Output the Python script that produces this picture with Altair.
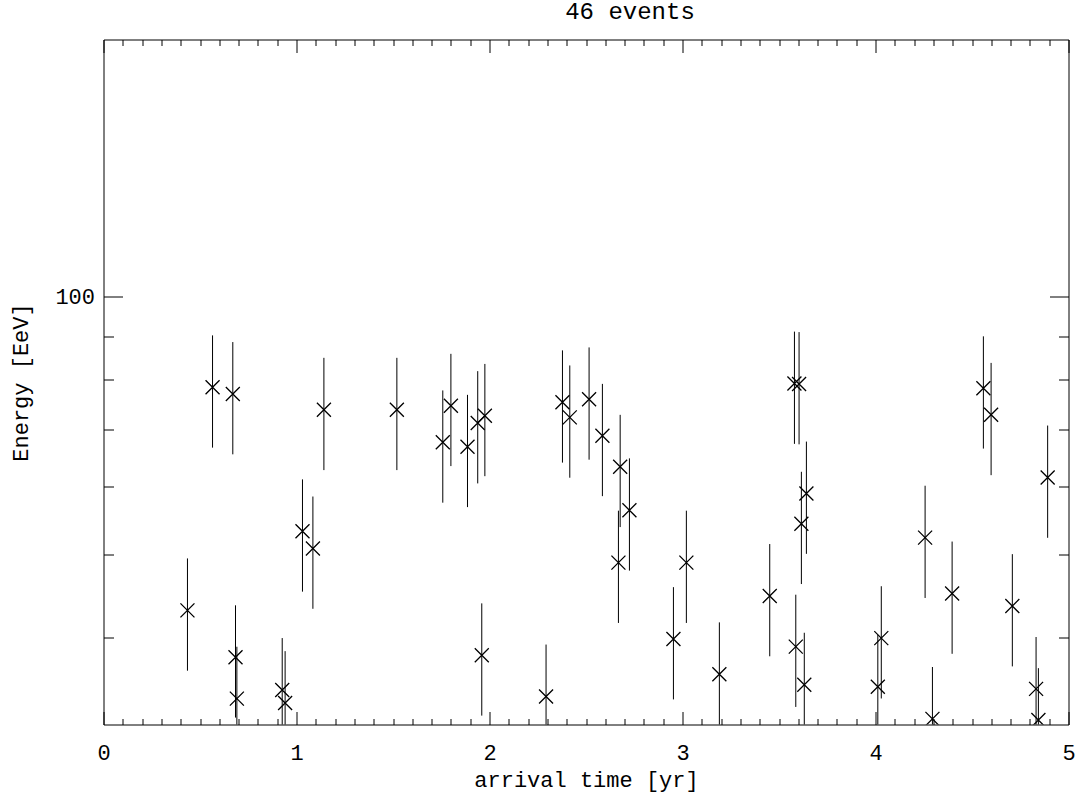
import altair as alt
import pandas as pd

# Arrival time of each event [yr]
arrival_time = [
    0.435, 0.565, 0.670, 0.684, 0.691, 0.926, 0.941, 1.031, 1.085, 1.142,
    1.520, 1.758, 1.800, 1.886, 1.939, 1.960, 1.976, 2.293, 2.378, 2.416,
    2.516, 2.585, 2.668, 2.677, 2.725, 2.953, 3.020, 3.191, 3.452, 3.580,
    3.587, 3.604, 3.616, 3.631, 3.642, 4.012, 4.030, 4.257, 4.295, 4.397,
    4.559, 4.599, 4.709, 4.832, 4.844, 4.892,
]
# Reconstructed energy of each event [EeV]
energy = [
    43.0, 78.4, 77.0, 37.9, 33.9, 34.7, 33.5, 53.2, 50.8, 73.8,
    73.8, 67.6, 74.6, 66.8, 71.2, 38.1, 72.6, 34.1, 75.3, 72.3,
    75.9, 68.8, 48.9, 63.3, 56.3, 39.8, 48.9, 36.2, 44.7, 79.2,
    39.0, 79.1, 54.3, 35.2, 58.9, 35.0, 39.9, 52.3, 32.1, 45.0,
    78.2, 72.8, 43.5, 34.8, 32.0, 61.5,
]
# Relative energy resolution used for the error bars
ENERGY_RESOLUTION = 0.15

X_LABELS = [0, 1, 2, 3, 4, 5]
X_TICKS = [round(0.1 * i, 1) for i in range(51)]
Y_LABELS = [100]
Y_TICKS = [40, 50, 60, 70, 80, 90, 100]

W, H = 965, 685
FONT = "Liberation Mono"

df = pd.DataFrame({"t": arrival_time, "E": energy})
df["E_lo"] = df["E"] * (1 - ENERGY_RESOLUTION)
df["E_hi"] = df["E"] * (1 + ENERGY_RESOLUTION)

x_scale = alt.Scale(domain=[0, 5], nice=False, zero=False)
y_scale = alt.Scale(type="log", domain=[31.62, 200], nice=False)

x_tick_len = {"condition": {"test": "abs(datum.value - round(datum.value)) < 1e-6", "value": 13}, "value": 6}
y_tick_len = {"condition": {"test": "datum.value == 100", "value": 19}, "value": 10}

# labelled axes (no ticks; the ticks are drawn inward by the other axes)
ax_x_lab = alt.Axis(orient="bottom", values=X_LABELS, format="d", ticks=False, tickSize=0,
                    domain=False, grid=False, labelFont=FONT, labelFontSize=22,
                    labelColor="black", labelPadding=35, labelBaseline="alphabetic",
                    labelFlush=False, labelOverlap=False,
                    title="arrival time [yr]", titleFont=FONT, titleFontSize=22,
                    titleFontWeight="normal", titleColor="black",
                    titleBaseline="alphabetic", titleY=62)
ax_y_lab = alt.Axis(orient="left", values=Y_LABELS, format="d", ticks=False, tickSize=0,
                    domain=False, grid=False, labelFont=FONT, labelFontSize=22,
                    labelColor="black", labelPadding=9, labelBaseline="middle",
                    labelFlush=False, labelOverlap=False,
                    title="Energy [EeV]", titleFont=FONT, titleFontSize=22,
                    titleFontWeight="normal", titleColor="black", titleAngle=270,
                    titleBaseline="alphabetic", titleAlign="center",
                    titleX=-76, titleY=H / 2)

# inward ticks along the bottom and left edges
ax_x_in_bottom = alt.Axis(orient="top", offset=-H, values=X_TICKS, tickSize=x_tick_len,
                          tickColor="black", labels=False, domain=False, grid=False, title=None)
ax_y_in_left = alt.Axis(orient="right", offset=-W, values=Y_TICKS, tickSize=y_tick_len,
                        tickColor="black", labels=False, domain=False, grid=False, title=None)
# inward ticks along the top and right edges
ax_x_in_top = alt.Axis(orient="bottom", offset=-H, values=X_TICKS, tickSize=x_tick_len,
                       tickColor="black", labels=False, domain=False, grid=False, title=None)
ax_y_in_right = alt.Axis(orient="left", offset=-W, values=Y_TICKS, tickSize=y_tick_len,
                         tickColor="black", labels=False, domain=False, grid=False, title=None)

base = alt.Chart(df)

error_bars = base.mark_rule(color="black", strokeWidth=1, clip=True).encode(
    x=alt.X("t:Q", scale=x_scale, axis=ax_x_lab),
    y=alt.Y("E_lo:Q", scale=y_scale, axis=ax_y_lab),
    y2="E_hi:Q",
)

crosses = base.mark_point(
    shape="M-1,-1L1,1M-1,1L1,-1", size=196, filled=False,
    stroke="black", strokeWidth=1.3, opacity=1, clip=True,
).encode(
    x=alt.X("t:Q", scale=x_scale, axis=ax_x_in_bottom),
    y=alt.Y("E:Q", scale=y_scale, axis=ax_y_in_left),
)

frame_ticks = base.mark_point(opacity=0, clip=True).encode(
    x=alt.X("t:Q", scale=x_scale, axis=ax_x_in_top),
    y=alt.Y("E:Q", scale=y_scale, axis=ax_y_in_right),
)

chart = (
    alt.layer(error_bars, crosses, frame_ticks)
    .resolve_axis(x="independent", y="independent")
    .properties(
        width=W,
        height=H,
        title=alt.TitleParams("46 events", font=FONT, fontSize=24, fontWeight="normal",
                              color="black", anchor="middle", frame="group", dx=44, dy=6,
                              baseline="alphabetic", offset=2),
        padding={"left": 103.5, "top": 39.5, "right": 10, "bottom": 79},
        autosize=alt.AutoSizeParams(type="none"),
        background="white",
    )
    .configure_view(stroke="black", strokeWidth=1)
)

chart.save("out.html", embed_options={"renderer": "svg", "actions": False})
